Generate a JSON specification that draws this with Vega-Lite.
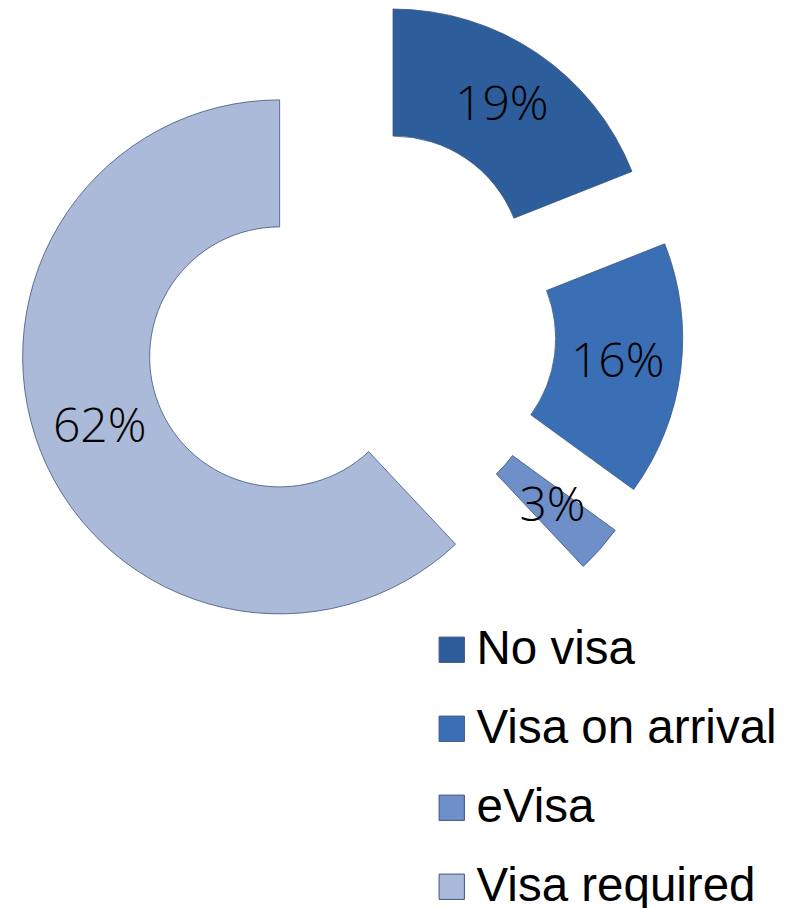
{
  "$schema": "https://vega.github.io/schema/vega-lite/v6.json",
  "width": 792,
  "height": 908,
  "autosize": "none",
  "padding": 0,
  "background": "white",
  "data": {
    "values": [
      {"category": "No visa", "value": 19, "order": 1},
      {"category": "Visa on arrival", "value": 16, "order": 2},
      {"category": "eVisa", "value": 3, "order": 3},
      {"category": "Visa required", "value": 62, "order": 4}
    ]
  },
  "transform": [
    {"window": [{"op": "sum", "field": "value", "as": "cum"}], "sort": [{"field": "order"}], "frame": [null, 0]},
    {"calculate": "datum.cum - datum.value", "as": "start"},
    {"calculate": "2*PI*(datum.cum - datum.value/2)/100", "as": "mid"},
    {"calculate": "sin(datum.mid)", "as": "ex"},
    {"calculate": "cos(datum.mid)", "as": "ey"},
    {"calculate": "3.546*sin(datum.mid)", "as": "lx"},
    {"calculate": "3.546*cos(datum.mid)", "as": "ly"},
    {"calculate": "datum.value + '%'", "as": "label"}
  ],
  "config": {"view": {"stroke": null}},
  "layer": [
    {
      "mark": {"type": "arc", "outerRadius": 257, "innerRadius": 130, "stroke": "#3b5680", "strokeWidth": 0.8},
      "encoding": {
        "theta": {"field": "start", "type": "quantitative", "scale": {"domain": [0, 100], "range": [0, 6.283185]}},
        "theta2": {"field": "cum"},
        "x": {"field": "ex", "type": "quantitative", "scale": {"domain": [-1, 1], "range": [274.3, 426.3]}, "axis": null},
        "y": {"field": "ey", "type": "quantitative", "scale": {"domain": [-1, 1], "range": [404.9, 252.9]}, "axis": null},
        "color": {
          "field": "category",
          "type": "nominal",
          "sort": ["No visa", "Visa on arrival", "eVisa", "Visa required"],
          "scale": {
            "domain": ["No visa", "Visa on arrival", "eVisa", "Visa required"],
            "range": ["#2e5d9b", "#3a6fb6", "#6f8fc9", "#abbad8"]
          },
          "legend": {
            "orient": "none",
            "legendX": 428,
            "legendY": 626,
            "title": null,
            "symbolType": "square",
            "symbolSize": 640,
            "symbolStrokeWidth": 1,
            "symbolStrokeColor": "#3b5680",
            "labelFont": "Liberation Sans",
            "labelFontSize": 47.5,
            "labelColor": "#000000",
            "labelOffset": 1,
            "rowPadding": 30,
            "labelLimit": 400
          }
        }
      }
    },
    {
      "mark": {"type": "text", "font": "Open Sans", "fontSize": 48, "fontWeight": 300, "color": "#000000"},
      "encoding": {
        "x": {"field": "lx", "type": "quantitative"},
        "y": {"field": "ly", "type": "quantitative"},
        "text": {"field": "label"}
      }
    }
  ]
}
